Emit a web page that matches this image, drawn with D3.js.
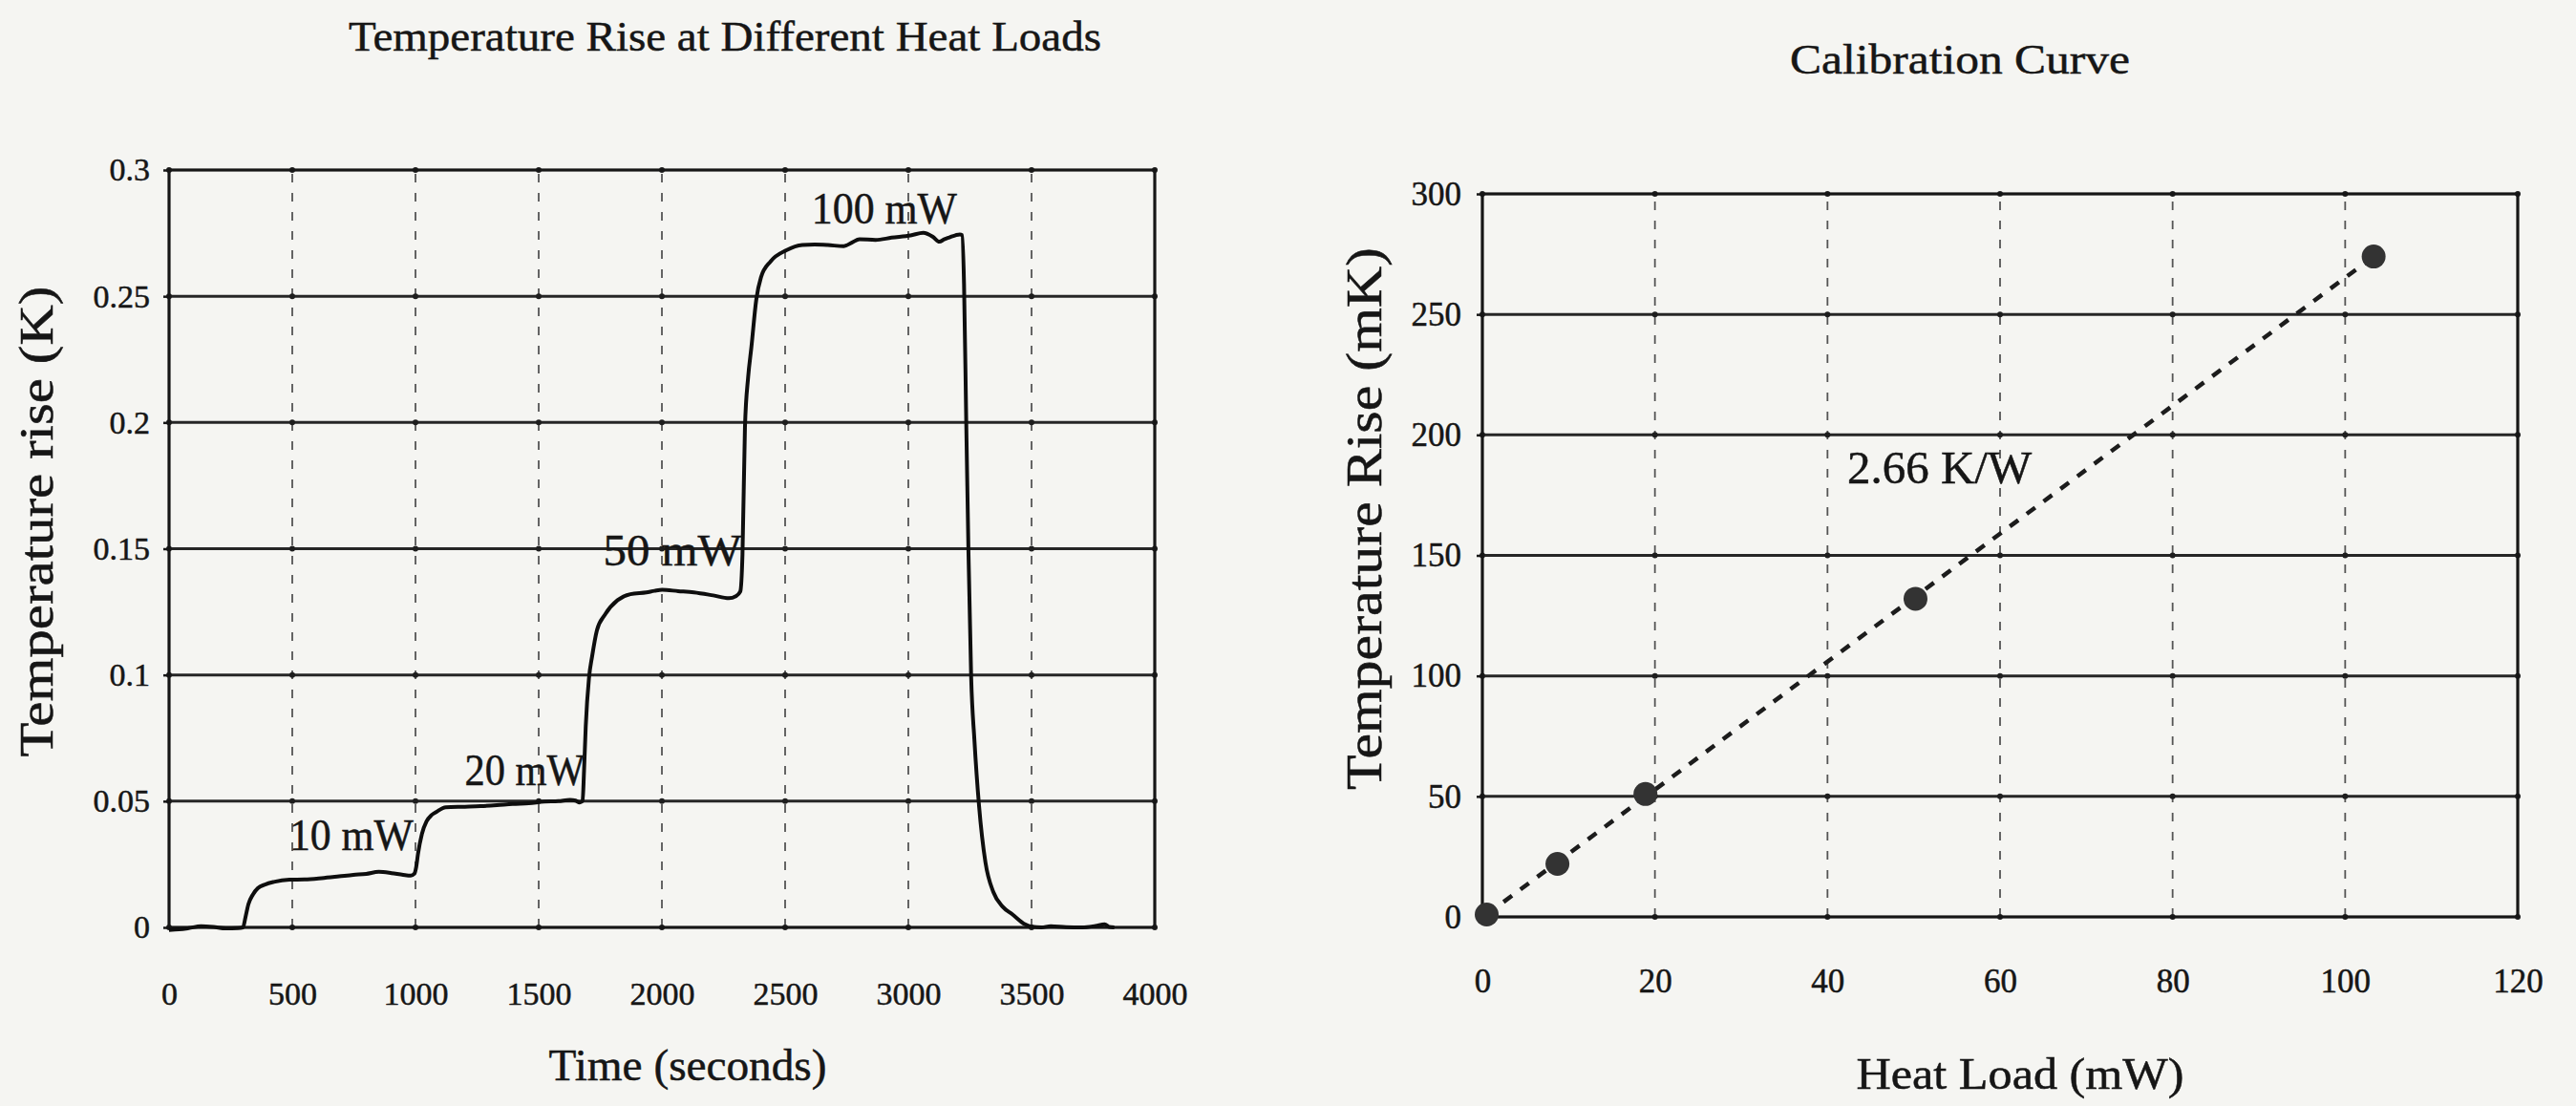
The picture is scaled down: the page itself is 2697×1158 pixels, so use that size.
<!DOCTYPE html>
<html>
<head>
<meta charset="utf-8">
<script src="https://cdn.jsdelivr.net/npm/d3@7"></script>
<style>
  body { margin: 0; background: #f5f5f2; }
  svg { display: block; font-family: 'Liberation Serif', 'Times New Roman', serif; }
  text { stroke: #161616; stroke-width: 0.5px; font-family: 'Liberation Serif', 'Times New Roman', serif; }
</style>
</head>
<body>
<svg id="chart" width="2697" height="1158"></svg>
<script>
// left panel: temperature trace
const timeSec = [0, 40, 80, 130, 180, 230, 280, 300, 310, 322, 340, 360, 390, 425, 489, 550, 619, 690, 748, 800,
    851, 903, 950, 981, 995, 1003, 1010, 1026, 1045, 1065, 1084, 1123, 1200, 1264, 1330, 1394, 1460, 1523, 1580, 1627,
    1650, 1666, 1678, 1684, 1691, 1704, 1717, 1736, 1769, 1820, 1872, 1937, 1970, 2001, 2066, 2130, 2208, 2272, 2300, 2318,
    2327, 2337, 2350, 2363, 2383, 2402, 2441, 2505, 2570, 2620, 2673, 2738, 2770, 2802, 2867, 2932, 3009, 3061, 3100, 3126,
    3145, 3164, 3209, 3218, 3226, 3235, 3244, 3255, 3268, 3287, 3313, 3345, 3384, 3423, 3474, 3500, 3540, 3578, 3640, 3706,
    3760, 3797, 3815, 3836];
const tempRiseK = [-0.001, -0.0008, -0.0003, 0.0005, 0.0002, -0.0004, -0.0003, 0.0, 0.004, 0.0092, 0.013, 0.0155, 0.017, 0.018, 0.0189, 0.019, 0.0195, 0.0202, 0.0208, 0.0212,
    0.022, 0.0215, 0.0208, 0.0205, 0.0212, 0.024, 0.029, 0.037, 0.042, 0.0445, 0.0457, 0.0476, 0.0478, 0.048, 0.0484, 0.0489, 0.0492, 0.0498, 0.05, 0.0505,
    0.0502, 0.0495, 0.05, 0.062, 0.0798, 0.0987, 0.1075, 0.1176, 0.1239, 0.1296, 0.132, 0.1327, 0.1333, 0.1337, 0.1332, 0.1327, 0.1315, 0.1304, 0.1312, 0.133,
    0.1478, 0.198, 0.218, 0.2297, 0.2487, 0.2575, 0.2638, 0.2682, 0.2703, 0.2705, 0.2703, 0.2698, 0.2712, 0.2726, 0.2723, 0.2732, 0.2741, 0.2751, 0.2735, 0.2716,
    0.2725, 0.2732, 0.2745, 0.2742, 0.255, 0.2, 0.1487, 0.0989, 0.0745, 0.0481, 0.0257, 0.014, 0.0081, 0.0051, 0.0012, 0.0003, 0.0, 0.0005, 0.0001, 0.0,
    0.0006, 0.0012, 0.0002, 0.0];
const timeTicks = [0, 500, 1000, 1500, 2000, 2500, 3000, 3500, 4000];
const tempTicksK = [0, 0.05, 0.1, 0.15, 0.2, 0.25, 0.3];
const stepLabels = ['10 mW', '20 mW', '50 mW', '100 mW'];
const stepLabelTime = [488, 1200, 1762, 2608];
const stepLabelTemp = [0.0306, 0.0563, 0.1433, 0.279];

// right panel: calibration points and fit
const heatLoad = [0.5, 8.7, 18.9, 50.2, 103.3];
const calTempMK = [1, 22, 51, 132, 274];
const fitHeat = [0.5, 103.3];
const fitTemp = [1, 274];
const heatTicks = [0, 20, 40, 60, 80, 100, 120];
const calTicks = [0, 50, 100, 150, 200, 250, 300];

const ink = '#161616';
const svg = d3.select('#chart');

svg.append('rect')
    .attr('width', 2697).attr('height', 1158)
    .attr('fill', '#f5f5f2');

function drawFrame(g, x, y, xTicks, yTicks, yLabelGap, xLabelY, fontSize) {
    const [x0, x1] = x.range();
    const [y0, y1] = y.range();

    // vertical grid, dashed and faint
    g.append('g').selectAll('line')
        .data(xTicks.slice(1, -1))
        .enter().append('line')
        .attr('x1', d => x(d)).attr('x2', d => x(d))
        .attr('y1', y0).attr('y2', y1)
        .attr('stroke', '#555')
        .attr('stroke-width', 1.8)
        .attr('stroke-dasharray', '9,11');

    // horizontal grid, solid
    g.append('g').selectAll('line')
        .data(yTicks.slice(1, -1))
        .enter().append('line')
        .attr('x1', x0).attr('x2', x1)
        .attr('y1', d => y(d)).attr('y2', d => y(d))
        .attr('stroke', '#262626')
        .attr('stroke-width', 3);

    // little marks where the grid lines cross
    const crossings = [];
    xTicks.forEach(a => yTicks.forEach(b => crossings.push([a, b])));
    g.append('g').selectAll('circle')
        .data(crossings)
        .enter().append('circle')
        .attr('cx', d => x(d[0])).attr('cy', d => y(d[1]))
        .attr('r', 3)
        .attr('fill', '#1e1e1e');

    g.append('rect')
        .attr('x', x0).attr('y', y1)
        .attr('width', x1 - x0).attr('height', y0 - y1)
        .attr('fill', 'none')
        .attr('stroke', ink)
        .attr('stroke-width', 3.2);

    const yAxis = g.append('g')
        .attr('transform', `translate(${x0},0)`)
        .call(d3.axisLeft(y).tickValues(yTicks).tickSize(6).tickPadding(yLabelGap).tickFormat(d => d))
        .attr('font-family', null)
        .attr('font-size', null);
    yAxis.select('.domain').remove();
    yAxis.selectAll('line').attr('stroke', ink).attr('stroke-width', 2.5);
    yAxis.selectAll('text')
        .attr('fill', ink)
        .style('font-size', fontSize + 'px');

    const xAxis = g.append('g')
        .attr('transform', `translate(0,${y0})`)
        .call(d3.axisBottom(x).tickValues(xTicks).tickSize(0).tickFormat(d => d))
        .attr('font-family', null)
        .attr('font-size', null);
    xAxis.select('.domain').remove();
    xAxis.selectAll('text')
        .attr('y', xLabelY - y0)
        .attr('dy', '0.35em')
        .attr('fill', ink)
        .style('font-size', fontSize + 'px');
}

function addText(g, str, px, py, size, len, rotate) {
    const t = g.append('text')
        .attr('text-anchor', 'middle')
        .attr('fill', ink)
        .style('font-size', size + 'px')
        .attr('textLength', len)
        .attr('lengthAdjust', 'spacingAndGlyphs')
        .text(str);
    if (rotate) {
        t.attr('transform', `translate(${px},${py}) rotate(-90)`);
    } else {
        t.attr('x', px).attr('y', py);
    }
    return t;
}

// ---- left panel ----
const left = svg.append('g');
const xTime = d3.scaleLinear().domain([0, 4000]).range([177, 1209]);
const yTemp = d3.scaleLinear().domain([0, 0.3]).range([971, 178]);

drawFrame(left, xTime, yTemp, timeTicks, tempTicksK, 14, 1040, 34);

const trace = d3.line()
    .x(d => xTime(d[0]))
    .y(d => yTemp(d[1]))
    .curve(d3.curveMonotoneX);

left.append('path')
    .datum(timeSec.map((t, i) => [t, tempRiseK[i]]))
    .attr('d', trace)
    .attr('fill', 'none')
    .attr('stroke', '#0e0e0e')
    .attr('stroke-width', 4)
    .attr('stroke-linejoin', 'round');

const labelWidths = [130, 126, 145, 152];
left.selectAll('.step-label')
    .data(stepLabels)
    .enter().append('text')
    .attr('class', 'step-label')
    .attr('x', (d, i) => xTime(stepLabelTime[i]))
    .attr('y', (d, i) => yTemp(stepLabelTemp[i]))
    .attr('fill', ink)
    .style('font-size', '46px')
    .attr('textLength', (d, i) => labelWidths[i])
    .attr('lengthAdjust', 'spacingAndGlyphs')
    .text(d => d);

addText(left, 'Temperature Rise at Different Heat Loads', 759, 53, 45, 788);
addText(left, 'Time (seconds)', 720, 1131, 46, 291);
addText(left, 'Temperature rise (K)', 55, 546, 50, 493, true);

// ---- right panel ----
const right = svg.append('g');
const xHeat = d3.scaleLinear().domain([0, 120]).range([1552, 2636]);
const yCal = d3.scaleLinear().domain([0, 300]).range([960, 203]);

drawFrame(right, xHeat, yCal, heatTicks, calTicks, 16, 1027, 35);

const fitLine = d3.line()
    .x(d => xHeat(d[0]))
    .y(d => yCal(d[1]));

right.append('path')
    .datum(fitHeat.map((h, i) => [h, fitTemp[i]]))
    .attr('d', fitLine)
    .attr('fill', 'none')
    .attr('stroke', '#1c1c1c')
    .attr('stroke-width', 4.5)
    .attr('stroke-dasharray', '11,11');

right.selectAll('.cal-point')
    .data(heatLoad)
    .enter().append('circle')
    .attr('class', 'cal-point')
    .attr('cx', d => xHeat(d))
    .attr('cy', (d, i) => yCal(calTempMK[i]))
    .attr('r', 12.5)
    .attr('fill', '#333');

right.append('text')
    .attr('x', xHeat(42.3))
    .attr('y', yCal(180))
    .attr('fill', ink)
    .style('font-size', '48px')
    .attr('textLength', 193)
    .attr('lengthAdjust', 'spacingAndGlyphs')
    .text('2.66 K/W');

addText(right, 'Calibration Curve', 2052, 77, 45, 356);
addText(right, 'Heat Load (mW)', 2115, 1140, 46, 343);
addText(right, 'Temperature Rise (mK)', 1446, 543, 52, 568, true);
</script>
</body>
</html>
